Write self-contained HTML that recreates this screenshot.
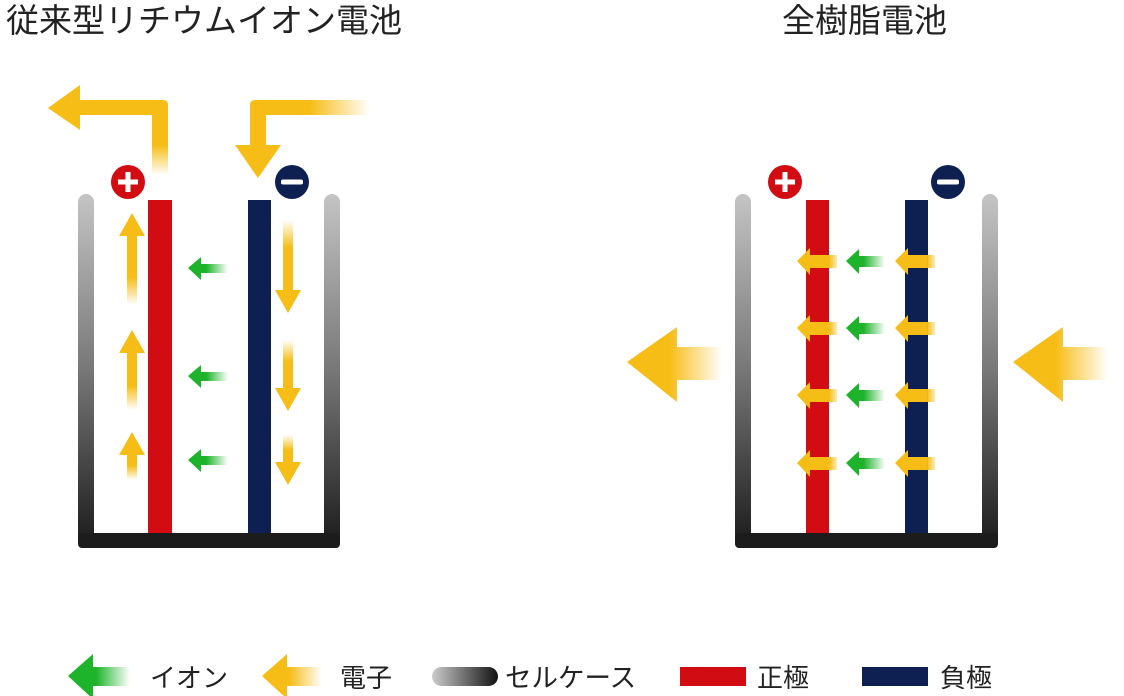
<!DOCTYPE html>
<html><head><meta charset="utf-8"><style>
html,body{margin:0;padding:0;background:#fff;width:1124px;height:696px;overflow:hidden}
svg{display:block}
text{font-family:"Liberation Sans","Noto Sans CJK JP",sans-serif;fill:#222}
</style></head><body>
<svg width="1124" height="696" viewBox="0 0 1124 696" xmlns="http://www.w3.org/2000/svg">
<defs>
<linearGradient id="wall" x1="0" y1="0" x2="0" y2="1"><stop offset="0" stop-color="#c4c4c4"/><stop offset="0.5" stop-color="#777"/><stop offset="1" stop-color="#1a1a1a"/></linearGradient>
<linearGradient id="yl" x1="0" y1="0" x2="1" y2="0"><stop offset="0.45" stop-color="#f6bd16"/><stop offset="1" stop-color="#f6bd16" stop-opacity="0"/></linearGradient>
<linearGradient id="ys" x1="0" y1="0" x2="1" y2="0"><stop offset="0.8" stop-color="#f6bd16"/><stop offset="1" stop-color="#f6bd16" stop-opacity="0.3"/></linearGradient>
<linearGradient id="gl" x1="0" y1="0" x2="1" y2="0"><stop offset="0.45" stop-color="#1db32a"/><stop offset="1" stop-color="#1db32a" stop-opacity="0"/></linearGradient>
<linearGradient id="yu" x1="0" y1="0" x2="0" y2="1"><stop offset="0.7" stop-color="#f6bd16"/><stop offset="1" stop-color="#f6bd16" stop-opacity="0"/></linearGradient>
<linearGradient id="yd" x1="0" y1="1" x2="0" y2="0"><stop offset="0.7" stop-color="#f6bd16"/><stop offset="1" stop-color="#f6bd16" stop-opacity="0"/></linearGradient>
<linearGradient id="pill" x1="0" y1="0" x2="1" y2="0"><stop offset="0" stop-color="#ccc"/><stop offset="1" stop-color="#111"/></linearGradient>
</defs>

<text x="6" y="32" font-size="33">従来型リチウムイオン電池</text>
<text x="782" y="32" font-size="33">全樹脂電池</text>

<!-- LEFT BATTERY -->
<rect x="78" y="194" width="16" height="354" rx="8" fill="url(#wall)"/>
<rect x="324" y="194" width="16" height="354" rx="8" fill="url(#wall)"/>
<rect x="78" y="533" width="262" height="15" rx="4" fill="#1c1c1c"/>
<rect x="148" y="200" width="24" height="333" fill="#d10c12"/>
<rect x="248" y="200" width="23" height="333" fill="#0e1f52"/>
<circle cx="128" cy="182" r="17" fill="#d10c12"/><rect x="118" y="179.5" width="20" height="5" fill="#fff"/><rect x="125.5" y="172" width="5" height="20" fill="#fff"/>
<circle cx="292" cy="182" r="17" fill="#0e1f52"/><rect x="281" y="179.5" width="22" height="5" rx="2" fill="#fff"/>
<linearGradient id="vu" x1="0" y1="100" x2="0" y2="175" gradientUnits="userSpaceOnUse"><stop offset="0.6" stop-color="#f6bd16"/><stop offset="1" stop-color="#f6bd16" stop-opacity="0"/></linearGradient>
<path d="M152 175 V115 H80 V130 L48 108 L80 85 V100 H163 Q168 100 168 105 V175 Z" fill="url(#vu)"/>
<linearGradient id="hr" x1="250" y1="0" x2="370" y2="0" gradientUnits="userSpaceOnUse"><stop offset="0.5" stop-color="#f6bd16"/><stop offset="1" stop-color="#f6bd16" stop-opacity="0"/></linearGradient>
<path d="M370 100 H255 Q250 100 250 105 V145 H235 L258 178 L281 145 H266 V115 H370 Z" fill="url(#hr)"/>
<g fill="url(#yu)">
<path d="M127 305 V236 H119 L132 213 L145 236 H137 V305 Z"/>
<path d="M127 410 V353 H119 L132 330 L145 353 H137 V410 Z"/>
<path d="M127 480 V455 H119 L132 432 L145 455 H137 V480 Z"/>
</g>
<g fill="url(#yd)">
<path d="M283 220 V290 H275 L288 313 L301 290 H293 V220 Z"/>
<path d="M283 340 V388 H275 L288 411 L301 388 H293 V340 Z"/>
<path d="M283 435 V462 H275 L288 485 L301 462 H293 V435 Z"/>
</g>
<g fill="url(#gl)">
<path d="M188 268 L201 257 V264 H228 V273 H201 V280 Z"/>
<path d="M188 376 L201 365 V372 H228 V381 H201 V388 Z"/>
<path d="M188 460 L201 449 V456 H228 V465 H201 V472 Z"/>
</g>

<!-- RIGHT BATTERY -->
<rect x="735" y="194" width="16" height="354" rx="8" fill="url(#wall)"/>
<rect x="982" y="194" width="16" height="354" rx="8" fill="url(#wall)"/>
<rect x="735" y="533" width="263" height="15" rx="4" fill="#1c1c1c"/>
<rect x="806" y="200" width="23" height="333" fill="#d10c12"/>
<rect x="905" y="200" width="23" height="333" fill="#0e1f52"/>
<circle cx="785" cy="182" r="17" fill="#d10c12"/><rect x="775" y="179.5" width="20" height="5" fill="#fff"/><rect x="782.5" y="172" width="5" height="20" fill="#fff"/>
<circle cx="948" cy="182" r="17" fill="#0e1f52"/><rect x="937" y="179.5" width="22" height="5" rx="2" fill="#fff"/>
<g id="row">
<path d="M797 261 L810 248 V255 H837 V268 H810 V275 Z" fill="url(#ys)"/>
<path d="M846 261 L859 249 V256 H885 V267 H859 V274 Z" fill="url(#gl)"/>
<path d="M895 261 L908 248 V255 H935 V268 H908 V275 Z" fill="url(#ys)"/>
</g>
<use href="#row" y="67"/><use href="#row" y="134"/><use href="#row" y="202"/>
<path d="M627 362 L677 327 V347 H722 V380 H677 V402 Z" fill="url(#yl)"/>
<path d="M1013 362 L1063 327 V347 H1108 V380 H1063 V402 Z" fill="url(#yl)"/>

<!-- LEGEND -->
<path d="M68 676 L93 654 V667 H130 V686 H93 V699 Z" fill="url(#gl)"/>
<text x="150" y="687" font-size="26">イオン</text>
<path d="M262 676 L287 654 V667 H322 V686 H287 V699 Z" fill="url(#yl)"/>
<text x="340" y="687" font-size="26">電子</text>
<rect x="432" y="667" width="66" height="19" rx="9.5" fill="url(#pill)"/>
<text x="505" y="687" font-size="26.5">セルケース</text>
<rect x="680" y="667" width="66" height="19" fill="#d10c12"/>
<text x="757" y="687" font-size="26">正極</text>
<rect x="862" y="667" width="66" height="19" fill="#0e1f52"/>
<text x="940" y="687" font-size="26">負極</text>
</svg>
</body></html>
